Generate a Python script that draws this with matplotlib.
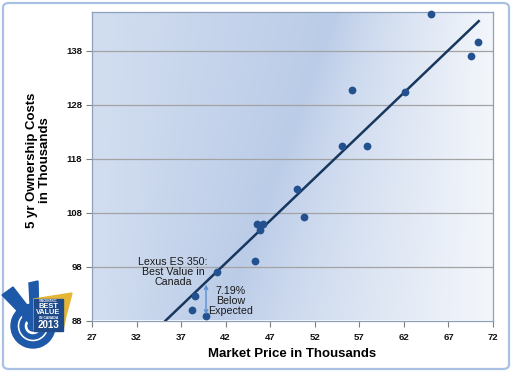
import numpy as np
import matplotlib
matplotlib.use("Agg")
import matplotlib.pyplot as plt
from matplotlib.patches import FancyBboxPatch, Polygon, Circle, Wedge, Rectangle

plt.rcParams['font.family'] = ['Liberation Sans', 'DejaVu Sans']

# Market price vs 5 yr ownership cost (thousands)
market_price = [65.0, 70.3, 69.5, 56.2, 62.1, 55.1, 57.9, 50.0, 50.8,
                45.5, 46.2, 45.9, 45.3, 41.0, 38.6, 38.2, 39.8]
ownership_cost = [144.9, 139.7, 137.1, 130.8, 130.3, 120.3, 120.3, 112.3, 107.2,
                  105.9, 105.9, 104.8, 99.0, 97.0, 92.6, 90.0, 88.8]

# trendline
trend_slope = 1.58
trend_intercept = 32.27

# Lexus ES 350
lexus_price = 39.8
lexus_cost = 88.8

x_ticks = [27, 32, 37, 42, 47, 52, 57, 62, 67, 72]
y_ticks = [88, 98, 108, 118, 128, 138]

fig = plt.figure(figsize=(5.12, 3.72), dpi=100)
fig.patch.set_facecolor('white')

# rounded light blue frame around the whole picture
frame = FancyBboxPatch((3 / 512, 3 / 372), 506 / 512, 366 / 372,
                       boxstyle="round,pad=0,rounding_size=0.012",
                       transform=fig.transFigure, facecolor='white',
                       edgecolor='#a9c1e3', linewidth=1.6, zorder=-10)
fig.patches.append(frame)

ax = fig.add_axes([92 / 512, 1 - 320.5 / 372, 401 / 512, 308.5 / 372])

# gradient background of the plot area
h, w = 120, 160
v, u = np.mgrid[0:1:h * 1j, 0:1:w * 1j]
c = 0.33 + 0.28 * v
left_col = np.array([0xd2, 0xde, 0xf0]) / 255
dark_col = np.array([0xbb, 0xcc, 0xe8]) / 255
right_col = np.array([0xf3, 0xf6, 0xfb]) / 255
t_left = np.clip(u / c, 0, 1)[..., None]
t_right = np.clip((u - c) / (1 - c), 0, 1)[..., None] ** 0.8
img = np.where((u < c)[..., None],
               left_col + (dark_col - left_col) * t_left,
               dark_col + (right_col - dark_col) * t_right)
ax.imshow(img, extent=[27, 72, 145.2, 88], aspect='auto', zorder=0,
          interpolation='bilinear')
ax.set_xlim(27, 72)
ax.set_ylim(88, 145.2)

for yt in y_ticks[1:]:
    ax.axhline(yt, color='#a3a3a3', linewidth=0.9, zorder=1)

# trendline
xs = np.array([27, max(market_price) + 0.1])
ax.plot(xs, trend_intercept + trend_slope * xs, color='#17375e',
        linewidth=1.8, zorder=3)

ax.plot(market_price, ownership_cost, 'o', color='#23518f', markersize=5.6,
        markeredgewidth=0, zorder=4, clip_on=False)

# annotations
ax.annotate('', xy=(lexus_price, lexus_cost + 0.3),
            xytext=(lexus_price, trend_intercept + trend_slope * lexus_price - 0.5),
            arrowprops=dict(arrowstyle='<->', color='#5b8fd0', lw=1.0,
                            mutation_scale=6, shrinkA=0, shrinkB=0), zorder=5)
ax.text(36.1, 97.0, 'Lexus ES 350:\nBest Value in\nCanada', ha='center',
        va='center', fontsize=7.7, color='#1a1a1a', linespacing=1.05, zorder=5)
ax.text(42.6, 91.6, '7.19%\nBelow\nExpected', ha='center', va='center',
        fontsize=7.7, color='#1a1a1a', linespacing=1.05, zorder=5)

ax.set_xticks(x_ticks)
ax.set_yticks(y_ticks)
ax.tick_params(axis='both', labelsize=6.8, colors='#7f7f7f', length=4,
               width=0.8, labelcolor='#111111')
for lab in ax.get_xticklabels() + ax.get_yticklabels():
    lab.set_fontweight('bold')
ax.tick_params(axis='x', pad=5)
ax.tick_params(axis='y', pad=3)
for s in ax.spines.values():
    s.set_color('#8e9fbb')
    s.set_linewidth(0.9)

ax.set_xlabel('Market Price in Thousands', fontsize=9.5, fontweight='bold')
ax.xaxis.set_label_coords(0.5, -0.09)
ax.set_ylabel('5 yr Ownership Costs\nin Thousands', fontsize=9.5,
              fontweight='bold', linespacing=1.1)
ax.yaxis.set_label_coords(-0.103, 0.52)

# badge in lower left corner
lg = fig.add_axes([0, 1 - 360 / 372, 80 / 512, 80 / 372])
lg.set_xlim(0, 80)
lg.set_ylim(80, 0)
lg.axis('off')
blue = '#1d59a8'
lg.add_patch(Wedge((33, 46), 22, 0, 360, width=6, color=blue))
lg.add_patch(Wedge((33, 46), 13, 0, 360, width=4, color=blue))
lg.add_patch(Circle((33, 46), 5, color=blue))
lg.add_patch(Polygon([(2, 15), (13, 7), (40, 42), (34, 48)], color=blue))
lg.add_patch(Polygon([(29, 3), (38, 1), (39, 46), (31, 44)], color=blue))
lg.add_patch(Polygon([(34, 19), (72, 13), (66, 36), (63, 50), (34, 50)],
                     color='#e5b536'))
lg.add_patch(Rectangle((34, 19), 29, 32, color='#1f4a8a'))
lg.text(48.5, 21.5, 'VINCENTRIC', ha='center', va='center', fontsize=2.2,
        color='white', fontweight='bold')
lg.text(48.5, 26.5, 'BEST', ha='center', va='center', fontsize=5.4,
        color='white', fontweight='bold')
lg.text(48.5, 32.5, 'VALUE', ha='center', va='center', fontsize=5.2,
        color='white', fontweight='bold')
lg.text(48.5, 37.7, 'IN CANADA', ha='center', va='center', fontsize=2.4,
        color='white', fontweight='bold')
lg.text(48.5, 44.5, '2013', ha='center', va='center', fontsize=7,
        color='white', fontweight='bold')

fig.savefig('out.png', dpi=100)
